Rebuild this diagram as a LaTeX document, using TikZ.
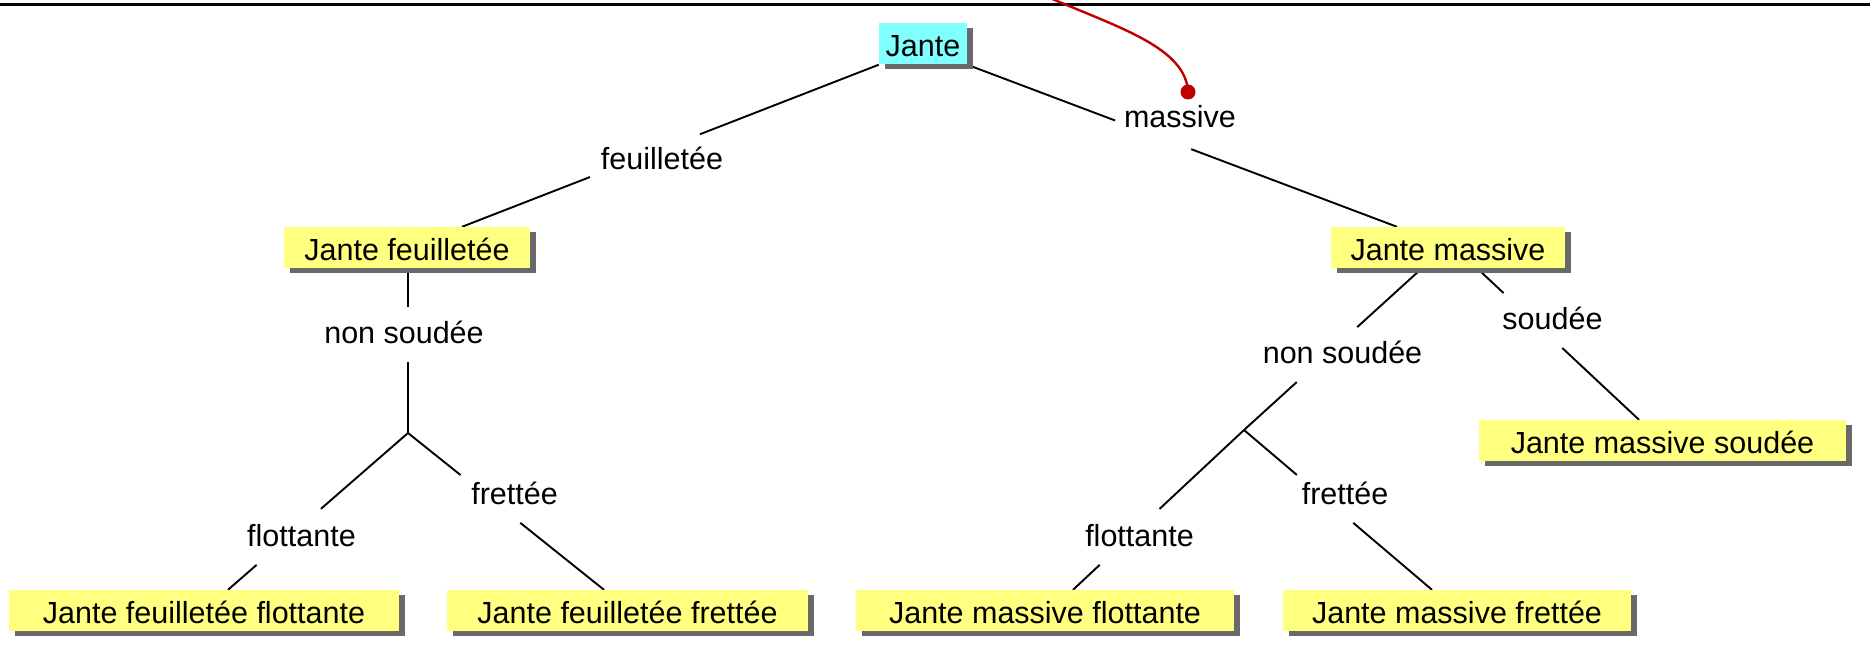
\documentclass[tikz,border=0pt]{standalone}
\usepackage{fontspec}
\setmainfont{Liberation Sans}
\usetikzlibrary{calc,shadows}
\pgfdeclarelayer{background}
\pgfsetlayers{background,main}
\definecolor{boxyellow}{RGB}{255,255,128}
\definecolor{rootcyan}{RGB}{128,255,255}
\definecolor{shadowgray}{RGB}{105,105,105}
\definecolor{pinred}{RGB}{192,0,0}
% straight link from #1 to #2, left open between fractions #3 and #4
\newcommand\tieline[4]{\draw[link] (#1) -- ($(#1)!#3!(#2)$) ($(#1)!#4!(#2)$) -- (#2);}
\begin{document}
\begin{tikzpicture}[x=1pt,y=-1pt,
  font=\fontsize{30.5}{36}\selectfont,
  box/.style={inner sep=0pt, text height=33pt, text depth=8pt, fill=boxyellow,
    drop shadow={shadow xshift=6pt,shadow yshift=-5pt,fill=shadowgray,opacity=1}},
  lbl/.style={inner sep=0pt, anchor=base},
  link/.style={line width=1.9pt, black}]
\useasboundingbox (0,0) rectangle (1870,663);

% header rule
\draw[line width=3pt] (0,5) -- (1870,5);

% class boxes
\node[box, fill=rootcyan, minimum width=88pt] (J) at (923,44) {Jante};
\node[box, minimum width=246pt] (JF)  at (407,247.5)  {Jante feuilletée};
\node[box, minimum width=234pt] (JM)  at (1448,247.5) {Jante massive};
\node[box, minimum width=390pt] (JFF) at (204,610.5)  {Jante feuilletée flottante};
\node[box, minimum width=361pt] (JFR) at (627.5,610.5) {Jante feuilletée frettée};
\node[box, minimum width=378pt] (JMF) at (1045,610.5) {Jante massive flottante};
\node[box, minimum width=348pt] (JMR) at (1457,610.5) {Jante massive frettée};
\node[box, minimum width=367pt] (JMS) at (1662.5,440.5) {Jante massive soudée};

% branch labels
\node[lbl] (lMas)  at (1180,128)  {massive};
\node[lbl] (lFeu)  at (662,170)   {feuilletée};
\node[lbl] (lNsL)  at (404,343)   {non soudée};
\node[lbl] (lFloL) at (301.5,546) {flottante};
\node[lbl] (lFreL) at (514.5,504) {frettée};
\node[lbl] (lNsR)  at (1342.5,363) {non soudée};
\node[lbl] (lSou)  at (1552.5,329) {soudée};
\node[lbl] (lFloR) at (1139.5,546) {flottante};
\node[lbl] (lFreR) at (1345,504)  {frettée};

% attachment points
\coordinate (jL) at (408,433);
\coordinate (jR) at (1244,430);
\coordinate (JFin)   at ($(JF.north)+(55,0)$);
\coordinate (JMin)   at ($(JM.north)+(-51,0)$);
\coordinate (JFout)  at ($(JF.south)+(1,0)$);
\coordinate (JMoutL) at ($(JM.south)+(-26,0)$);
\coordinate (JMoutR) at ($(JM.south)+(29,0)$);
\coordinate (JFFin)  at ($(JFF.north)+(24,0)$);
\coordinate (JFRin)  at ($(JFR.north)+(-23.5,0)$);
\coordinate (JMFin)  at ($(JMF.north)+(28,0)$);
\coordinate (JMRin)  at ($(JMR.north)+(-25,0)$);
\coordinate (JMSin)  at ($(JMS.north)+(-23.5,0)$);

\begin{pgfonlayer}{background}
  \tieline{J.south west}{JFin}{0.429}{0.693}
  \tieline{J.south east}{JMin}{0.344}{0.521}
  \tieline{JFout}{jL}{0.236}{0.570}
  \tieline{jL}{JFFin}{0.484}{0.841}
  \tieline{jL}{JFRin}{0.268}{0.573}
  \tieline{JMoutL}{jR}{0.364}{0.704}
  \tieline{JMoutR}{JMSin}{0.164}{0.526}
  \tieline{jR}{JMFin}{0.494}{0.844}
  \tieline{jR}{JMRin}{0.281}{0.581}
\end{pgfonlayer}

% annotation pin
\coordinate (pin) at (1188,92);
\draw[pinred, line width=2.4pt] (1050,-2) .. controls (1120,28) and (1186,48) .. (pin);
\fill[pinred] (pin) circle[radius=7.5pt];
\end{tikzpicture}
\end{document}
